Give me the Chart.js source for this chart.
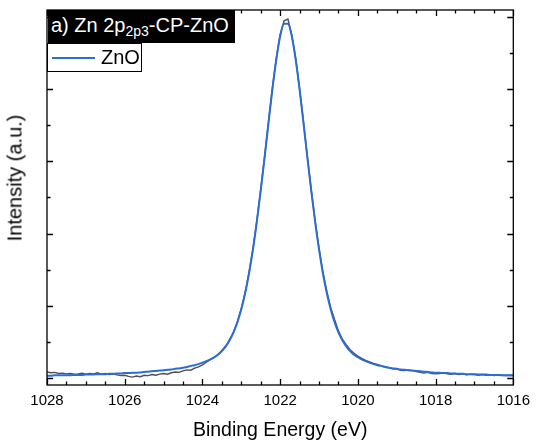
<!DOCTYPE html>
<html>
<head>
<meta charset="utf-8">
<script src="https://cdn.jsdelivr.net/npm/chart.js@4.4.1/dist/chart.umd.min.js"></script>
<style>
  body { margin: 0; background: #fff; }
  #wrap { position: relative; width: 537px; height: 442px; font-family: "Liberation Sans", Arial, sans-serif; }
  #titleBox {
    position: absolute; left: 48px; top: 10px; width: 187px; height: 33px;
    background: #000; color: #fff; font-size: 20px; line-height: 31px;
    padding-left: 3px; box-sizing: border-box; white-space: nowrap;
  }
  #titleBox sub { font-size: 14px; vertical-align: -4px; line-height: 0; }
  #legendBox {
    position: absolute; left: 47px; top: 43px; width: 95px; height: 29px;
    border: 1px solid #000; background: #fff; box-sizing: border-box;
  }
  #legendBox .swatch { position: absolute; left: 4px; top: 13px; width: 43px; height: 2px; background: #2b6cd9; }
  #legendBox .label { position: absolute; left: 53px; top: 2px; font-size: 20px; line-height: 23px; color: #000; }
  #yTitle {
    position: absolute; left: 15px; top: 178px; font-size: 20px; color: #000;
    transform: translate(-50%, -50%) rotate(-90deg); white-space: nowrap;
  }
</style>
</head>
<body>
<div id="wrap">
  <canvas id="xpsChart" width="537" height="442"></canvas>
  <div id="titleBox">a) Zn 2p<sub>2p3</sub>-CP-ZnO</div>
  <div id="legendBox"><span class="swatch"></span><span class="label">ZnO</span></div>
  <div id="yTitle">Intensity (a.u.)</div>
</div>
<script>
// ===== DATA =====

// Binding energy, eV (step 0.1)
const energies = [
  1028.0,1027.9,1027.8,1027.7,1027.6,1027.5,1027.4,1027.3,1027.2,1027.1,
  1027.0,1026.9,1026.8,1026.7,1026.6,1026.5,1026.4,1026.3,1026.2,1026.1,
  1026.0,1025.9,1025.8,1025.7,1025.6,1025.5,1025.4,1025.3,1025.2,1025.1,
  1025.0,1024.9,1024.8,1024.7,1024.6,1024.5,1024.4,1024.3,1024.2,1024.1,
  1024.0,1023.9,1023.8,1023.7,1023.6,1023.5,1023.4,1023.3,1023.2,1023.1,
  1023.0,1022.9,1022.8,1022.7,1022.6,1022.5,1022.4,1022.3,1022.2,1022.1,
  1022.0,1021.9,1021.8,1021.7,1021.6,1021.5,1021.4,1021.3,1021.2,1021.1,
  1021.0,1020.9,1020.8,1020.7,1020.6,1020.5,1020.4,1020.3,1020.2,1020.1,
  1020.0,1019.9,1019.8,1019.7,1019.6,1019.5,1019.4,1019.3,1019.2,1019.1,
  1019.0,1018.9,1018.8,1018.7,1018.6,1018.5,1018.4,1018.3,1018.2,1018.1,
  1018.0,1017.9,1017.8,1017.7,1017.6,1017.5,1017.4,1017.3,1017.2,1017.1,
  1017.0,1016.9,1016.8,1016.7,1016.6,1016.5,1016.4,1016.3,1016.2,1016.1,
  1016.0
];

// Measured spectrum (grey), arbitrary units
const measured = [
  0.16,0.14,0.15,0.12,0.13,0.11,0.12,0.10,0.11,0.13,
  0.10,0.12,0.11,0.14,0.10,0.12,0.09,0.11,0.08,0.06,
  0.07,0.04,0.02,0.05,0.03,0.07,0.06,0.09,0.07,0.10,
  0.12,0.10,0.14,0.16,0.15,0.19,0.22,0.21,0.27,0.30,
  0.36,0.43,0.50,0.56,0.65,0.76,0.88,1.06,1.27,1.56,
  1.92,2.37,2.93,3.58,4.36,5.22,6.14,7.10,8.04,8.86,
  9.52,9.90,9.95,9.50,8.86,8.02,7.10,6.13,5.21,4.35,
  3.60,2.93,2.40,1.95,1.62,1.30,1.07,0.92,0.78,0.68,
  0.60,0.54,0.48,0.44,0.40,0.37,0.33,0.31,0.28,0.25,
  0.24,0.21,0.20,0.22,0.20,0.17,0.15,0.13,0.15,0.12,
  0.11,0.12,0.14,0.11,0.10,0.12,0.09,0.11,0.08,0.10,
  0.09,0.07,0.09,0.07,0.08,0.06,0.08,0.07,0.06,0.07,
  0.06
];

// ZnO component fit (blue)
const znoFit = [
  0.06,0.06,0.07,0.07,0.07,0.07,0.07,0.08,0.08,0.08,
  0.09,0.09,0.09,0.10,0.10,0.10,0.11,0.11,0.12,0.12,
  0.13,0.13,0.14,0.14,0.15,0.16,0.17,0.18,0.19,0.20,
  0.21,0.22,0.23,0.25,0.26,0.28,0.30,0.33,0.35,0.38,
  0.42,0.46,0.51,0.57,0.64,0.74,0.87,1.04,1.26,1.54,
  1.90,2.35,2.90,3.56,4.33,5.19,6.11,7.07,8.00,8.82,
  9.47,9.82,9.82,9.47,8.82,8.00,7.07,6.11,5.19,4.33,
  3.56,2.90,2.35,1.90,1.54,1.26,1.04,0.87,0.74,0.64,
  0.57,0.51,0.46,0.42,0.38,0.35,0.33,0.30,0.28,0.26,
  0.25,0.23,0.22,0.21,0.20,0.19,0.18,0.17,0.16,0.15,
  0.14,0.14,0.13,0.13,0.12,0.12,0.11,0.11,0.10,0.10,
  0.10,0.09,0.09,0.09,0.08,0.08,0.08,0.07,0.07,0.07,
  0.07
];

// Axis ticks
const xTickValues = [1028, 1026, 1024, 1022, 1020, 1018, 1016];
const yTickValues = [0, 1, 2, 3, 4, 5, 6, 7, 8, 9, 10];

// ===== CHART =====

function toPoints(xs, ys) {
  return xs.map((x, i) => ({ x: x, y: ys[i] }));
}

// Frame with inward ticks on all four sides (Origin style)
const framePlugin = {
  id: 'frame',
  afterDraw(chart) {
    const { ctx, chartArea: a, scales } = chart;
    const xs = scales.x, ys = scales.y;
    ctx.save();
    ctx.strokeStyle = '#000';
    ctx.lineWidth = 1.3;
    ctx.strokeRect(a.left, a.top, a.right - a.left, a.bottom - a.top);
    ctx.beginPath();
    // x ticks: major every 2 eV, minor every 0.5 eV
    for (let v = xs.min; v <= xs.max + 1e-6; v += 0.5) {
      const px = Math.round(xs.getPixelForValue(v)) + 0.5;
      const len = Math.abs(v % 2) < 1e-6 ? 6 : 3.5;
      ctx.moveTo(px, a.bottom); ctx.lineTo(px, a.bottom - len);
      ctx.moveTo(px, a.top); ctx.lineTo(px, a.top + len);
    }
    // y ticks: major on even values
    yTickValues.forEach(v => {
      const py = Math.round(ys.getPixelForValue(v)) + 0.5;
      const len = v % 2 === 0 ? 6 : 3.5;
      ctx.moveTo(a.left, py); ctx.lineTo(a.left + len, py);
      ctx.moveTo(a.right, py); ctx.lineTo(a.right - len, py);
    });
    ctx.stroke();
    ctx.restore();
  }
};

Chart.defaults.font.family = '"Liberation Sans", Arial, sans-serif';
Chart.defaults.color = '#000';

const ctx = document.getElementById('xpsChart');
new Chart(ctx, {
  type: 'line',
  data: {
    datasets: [
      {
        label: 'ZnO',
        data: toPoints(energies, znoFit),
        borderColor: '#2b6cd9',
        borderWidth: 2,
        pointRadius: 0,
        cubicInterpolationMode: 'monotone',
        order: 0
      },
      {
        label: 'measured',
        data: toPoints(energies, measured),
        borderColor: '#4f4f4f',
        borderWidth: 1.4,
        pointRadius: 0,
        tension: 0,
        order: 1
      }
    ]
  },
  options: {
    responsive: false,
    animation: false,
    layout: { padding: { top: 10, right: 21, left: 0, bottom: 0 } },
    plugins: {
      legend: { display: false },
      tooltip: { enabled: false }
    },
    scales: {
      x: {
        type: 'linear',
        reverse: true,
        min: 1016,
        max: 1028,
        afterFit(scale) { scale.height = 57; },
        afterBuildTicks(scale) { scale.ticks = xTickValues.map(v => ({ value: v })); },
        ticks: { font: { size: 15 }, padding: 7, callback: v => String(v) },
        grid: { display: false, drawTicks: false },
        border: { display: false },
        title: { display: true, text: 'Binding Energy (eV)', font: { size: 19.5 }, padding: { top: 0, bottom: 0 } }
      },
      y: {
        min: -0.2,
        max: 10.2,
        afterFit(scale) { scale.width = 47; },
        ticks: { display: false },
        grid: { display: false, drawTicks: false },
        border: { display: false },
        title: { display: false }
      }
    }
  },
  plugins: [framePlugin]
});
</script>
</body>
</html>
